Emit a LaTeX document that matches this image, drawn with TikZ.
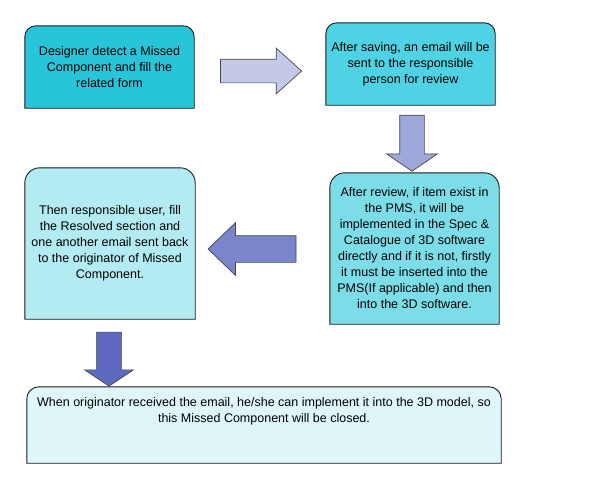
\documentclass[tikz,border=0pt]{standalone}
\usepackage{fontspec}
\setmainfont{Liberation Sans}
\usetikzlibrary{shapes.arrows,backgrounds}
\definecolor{boxa}{RGB}{38,197,217}
\definecolor{boxb}{RGB}{78,210,228}
\definecolor{boxc}{RGB}{124,221,233}
\definecolor{boxd}{RGB}{178,236,242}
\definecolor{boxe}{RGB}{222,246,248}
\definecolor{arra}{RGB}{197,201,232}
\definecolor{arrb}{RGB}{160,168,218}
\definecolor{arrc}{RGB}{122,134,204}
\definecolor{arrd}{RGB}{93,106,191}
\definecolor{boxline}{RGB}{25,25,25}
\definecolor{arrline}{RGB}{70,70,80}
\tikzset{
	stepbox/.style={
			align=center,
			inner sep=0pt,
			font=\fontsize{12.5}{16}\selectfont
		},
	blockarrow/.style={
			single arrow,
			draw=arrline,
			line width=0.7pt,
			inner sep=0pt,
			text depth=0pt,
			single arrow head indent=0pt
		}
}

\begin{document}
\begin{tikzpicture}[x=1pt,y=-1pt]
			\useasboundingbox (0,0) rectangle (589,480);
			\node[stepbox, minimum width=169pt, minimum height=82pt] (s1) at (109.5,67) {Designer detect a Missed\\Component and fill the\\related form};
			\node[stepbox, minimum width=169pt, minimum height=82pt] (s2) at (410.5,64) {After saving, an email will be\\sent to the responsible\\person for review};
			\node[stepbox, minimum width=169pt, minimum height=151pt] (s3) at (414.5,248.5) {After review, if item exist in\\the PMS, it will be\\implemented in the Spec \&\\Catalogue of 3D software\\directly and if it is not, firstly\\it must be inserted into the\\PMS(If applicable) and then\\into the 3D software.};
			\node[stepbox, minimum width=170pt, minimum height=151pt] (s4) at (110,243.5) {Then responsible user, fill\\the Resolved section and\\one another email sent back\\to the originator of Missed\\Component.};
			\node[stepbox, minimum width=474pt, minimum height=76pt, text depth=30pt] (s5) at (264,425) {When originator received the email, he/she can implement it into the 3D model, so\\this Missed Component will be closed.};
			\begin{scope}[on background layer]
				\foreach \n/\c/\r in {s1/boxa/11, s2/boxb/11, s3/boxc/15, s4/boxd/15, s5/boxe/12}
				\draw[boxline, line width=0.9pt, fill=\c] (\n.south west) [rounded corners=\r pt] -- (\n.north west) -- (\n.north east) [sharp corners] -- (\n.south east) -- cycle;
			\end{scope}
			\node[blockarrow, fill=arra, text height=23pt, minimum height=81pt, minimum width=45pt, single arrow head extend=11pt, single arrow tip angle=84] (a1) at (254.5,71) {};
			\node[blockarrow, fill=arrb, text height=24pt, minimum height=56pt, minimum width=50pt, single arrow head extend=13pt, single arrow tip angle=111.6, rotate=-90] (a2) at (412,139) {};
			\node[blockarrow, fill=arrc, text height=26pt, minimum height=88pt, minimum width=52pt, single arrow head extend=13pt, single arrow tip angle=87.8, rotate=180] (a3) at (259,249) {};
			\node[blockarrow, fill=arrd, text height=24pt, minimum height=54pt, minimum width=48pt, single arrow head extend=12pt, single arrow tip angle=112.6, rotate=-90] (a4) at (109,355) {};
		\end{tikzpicture}
\end{document}
